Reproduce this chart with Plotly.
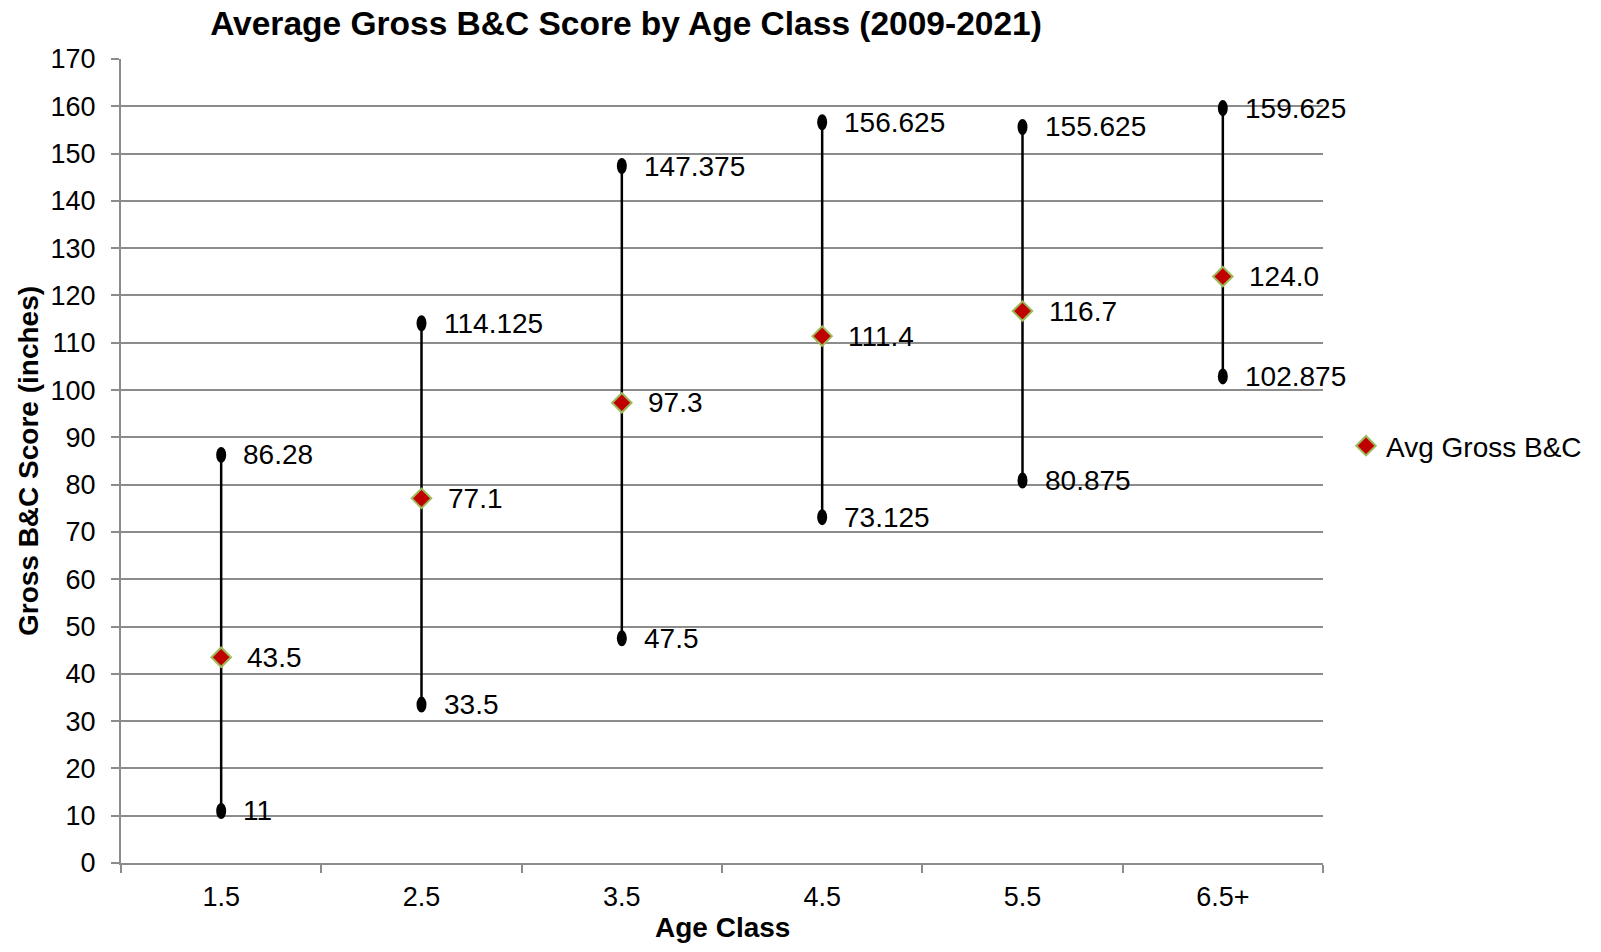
import plotly.graph_objects as go

# data
age_classes = ['1.5', '2.5', '3.5', '4.5', '5.5', '6.5+']
high_scores = [86.28, 114.125, 147.375, 156.625, 155.625, 159.625]
low_scores = [11, 33.5, 47.5, 73.125, 80.875, 102.875]
avg_scores = [43.5, 77.1, 97.3, 111.4, 116.7, 124.0]
high_labels = ['86.28', '114.125', '147.375', '156.625', '155.625', '159.625']
low_labels = ['11', '33.5', '47.5', '73.125', '80.875', '102.875']
y_ticks = list(range(0, 171, 10))

font_family = 'Liberation Sans, Arial, sans-serif'
grid_color = '#8c8c8c'

fig = go.Figure()

# high-low lines
for cat, lo, hi in zip(age_classes, low_scores, high_scores):
    fig.add_trace(go.Scatter(x=[cat, cat], y=[lo, hi], mode='lines',
                             line=dict(color='black', width=2.5),
                             showlegend=False, hoverinfo='skip'))

# oval end caps (pixel sized, anchored to the data points)
# category strings like "1.5" get read as numbers by shapes/annotations, so use the index
for i, (lo, hi) in enumerate(zip(low_scores, high_scores)):
    for v in (lo, hi):
        fig.add_shape(type='circle', xref='x', yref='y',
                      xsizemode='pixel', ysizemode='pixel',
                      xanchor=i, yanchor=v,
                      x0=-5, x1=5, y0=-8, y1=8,
                      fillcolor='black', line=dict(color='black', width=0))

# average markers
fig.add_trace(go.Scatter(x=age_classes, y=avg_scores, mode='markers',
                         name='Avg Gross B&C',
                         marker=dict(symbol='diamond', size=15, color='#c00000',
                                     line=dict(color='#9bbb59', width=2))))

# value labels
for i, (lo, hi, av, lo_t, hi_t) in enumerate(zip(low_scores, high_scores, avg_scores,
                                                 low_labels, high_labels)):
    for v, t, shift in ((hi, hi_t, 20), (lo, lo_t, 20), (av, f'{av:.1f}', 24)):
        fig.add_annotation(x=i, y=v, text=t, showarrow=False,
                           xanchor='left', yanchor='middle', xshift=shift,
                           font=dict(size=28, color='black', family=font_family))

# x axis title as an annotation (standoff is ignored without automargin)
fig.add_annotation(x=0.5, y=-0.0808, xref='paper', yref='paper',
                   text='<b>Age Class</b>', showarrow=False,
                   xanchor='center', yanchor='middle',
                   font=dict(size=28, color='black', family=font_family))

# page body has an 8px margin, so the figure is a bit smaller than the window
fig.update_layout(
    width=1585, height=936,
    paper_bgcolor='white', plot_bgcolor='white',
    margin=dict(l=113, r=270, t=51, b=81),
    font=dict(family=font_family, size=27, color='black'),
    title=dict(text='<b>Average Gross B&C Score by Age Class (2009-2021)</b>',
               x=618 / 1585, xanchor='center', xref='container',
               y=1 - 15 / 936, yanchor='middle', yref='container',
               font=dict(size=33.5, color='black', family=font_family)),
    legend=dict(x=1338 / 1585, y=1 - 438 / 936, xref='container', yref='container',
                xanchor='left', yanchor='middle',
                font=dict(size=28), itemwidth=30, tracegroupgap=0),
    showlegend=True,
)

fig.update_xaxes(
    type='category', categoryorder='array', categoryarray=age_classes,
    range=[-0.5, 5.5], tickson='boundaries', ticks='outside', ticklen=8,
    tickcolor=grid_color, tickwidth=2, ticklabelstandoff=9, automargin=False,
    showline=True, linecolor=grid_color, linewidth=2, showgrid=False,
    tickfont=dict(size=27), zeroline=False,
)

fig.update_yaxes(
    range=[0, 170], tickvals=y_ticks, ticks='outside', ticklen=8,
    tickcolor=grid_color, tickwidth=2, ticklabelstandoff=10, automargin=False,
    showline=True, linecolor=grid_color, linewidth=2,
    showgrid=True, gridcolor=grid_color, gridwidth=2, zeroline=False,
    title=dict(text='<b>Gross B&C Score (inches)</b>', font=dict(size=28), standoff=4),
    tickfont=dict(size=27),
)

fig.write_html('out.html')
